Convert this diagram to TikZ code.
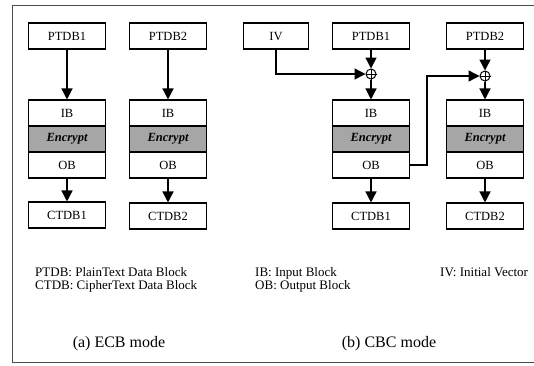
\documentclass[tikz,border=0pt]{standalone}
\usepackage{fontspec}
\setmainfont{Liberation Serif}
\usetikzlibrary{arrows.meta}
\begin{document}
\begin{tikzpicture}[x=1pt,y=-1pt,
  every node/.style={font=\fontsize{12.5}{13}\selectfont},
  blk/.style={draw,line width=1.1pt,minimum width=77pt,minimum height=26pt,inner sep=0pt},
  ivbox/.style={blk,minimum width=65pt},
  encbox/.style={blk,fill=black!35,font=\fontsize{12.5}{13}\selectfont\bfseries\itshape},
  xor/.style={draw,circle,line width=1pt,minimum size=10pt,inner sep=0pt},
  arr/.style={line width=1.4pt,-{Triangle[length=11pt,width=11pt]}},
  legend/.style={anchor=north west,align=left,inner sep=0pt,font=\fontsize{13}{13}\selectfont},
  capt/.style={font=\fontsize{16}{18}\selectfont},
  frame/.style={line width=0.8pt,black!70}]
\useasboundingbox (0,0) rectangle (534,365);
% frame
\draw[frame] (534,5) -- (12,5) -- (12,362) -- (534,362);

% ---------- ECB ----------
\node[blk] (ep1) at (67,36) {PTDB1};
\node[blk] (ep2) at (168,36) {PTDB2};
\node[blk] (eib1) at (67,113) {IB};
\node[encbox] (een1) at (67,139) {Encrypt};
\node[blk] (eob1) at (67,165) {OB};
\node[blk] (eib2) at (168,113) {IB};
\node[encbox] (een2) at (168,139) {Encrypt};
\node[blk] (eob2) at (168,165) {OB};
\node[blk] (ec1) at (67,215) {CTDB1};
\node[blk] (ec2) at (168,216) {CTDB2};
\draw[arr] (ep1) -- (eib1);
\draw[arr] (ep2) -- (eib2);
\draw[arr] (eob1) -- (ec1);
\draw[arr] (eob2) -- (ec2);

% ---------- CBC ----------
\node[ivbox] (iv) at (276,36) {IV};
\node[blk] (cp1) at (371,36) {PTDB1};
\node[blk] (cp2) at (485,36) {PTDB2};
\node[xor] (x1) at (371,74) {};
\node[xor] (x2) at (485,76) {};
\draw[line width=0.8pt] (x1.north) -- (x1.south) (x1.west) -- (x1.east);
\draw[line width=0.8pt] (x2.north) -- (x2.south) (x2.west) -- (x2.east);
\node[blk] (cib1) at (371,113) {IB};
\node[encbox] (cen1) at (371,139) {Encrypt};
\node[blk] (cob1) at (371,165) {OB};
\node[blk] (cib2) at (485,113) {IB};
\node[encbox] (cen2) at (485,139) {Encrypt};
\node[blk] (cob2) at (485,165) {OB};
\node[blk] (cc1) at (371,216) {CTDB1};
\node[blk] (cc2) at (485,216) {CTDB2};
\coordinate (fb) at (427,165);
\draw[arr] (cp1) -- (x1);
\draw[arr] (x1) -- (cib1);
\draw[arr] (cp2) -- (x2);
\draw[arr] (x2) -- (cib2);
\draw[arr] (iv.south) |- (x1.west);
\draw[arr] (cob1.east) -- (fb) |- (x2.west);
\draw[arr] (cob1) -- (cc1);
\draw[arr] (cob2) -- (cc2);

% ---------- legend ----------
\node[legend] (lg1) at (35,267) {PTDB: PlainText Data Block\\CTDB: CipherText Data Block};
\node[legend] (lg2) at (255,267) {IB: Input Block\\OB: Output Block};
\node[legend] (lg3) at (440,267) {IV: Initial Vector};
\node[capt] (capa) at (119,344) {(a) ECB mode};
\node[capt] (capb) at (389,344) {(b) CBC mode};
\end{tikzpicture}
\end{document}
